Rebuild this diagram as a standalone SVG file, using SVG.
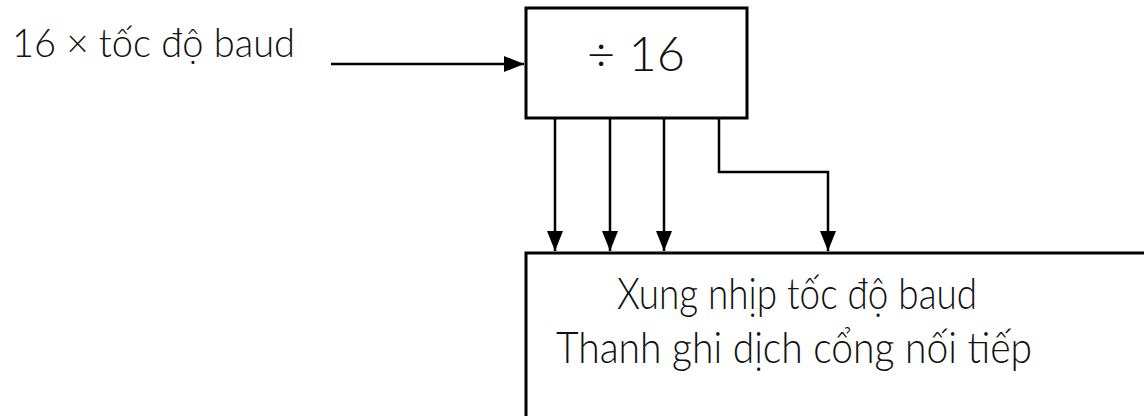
<svg xmlns="http://www.w3.org/2000/svg" width="1144" height="416" viewBox="0 0 1144 416">
<style>
.box{fill:#fff;stroke:#000;stroke-width:3}
.ln{fill:none;stroke:#000;stroke-width:2.5}
.t{font-family:Lato,"Noto Sans",sans-serif;fill:#111;font-weight:300}
</style>
<defs>
<marker id="ah2" viewBox="0 0 10 10" refX="10" refY="5" markerWidth="8" markerHeight="8" orient="auto" markerUnits="strokeWidth">
<path d="M0,1 L10,5 L0,9 Z" fill="#000"/>
</marker>
</defs>
<rect width="1144" height="416" fill="#fff"/>
<g id="input-label">
<text class="t" x="12" y="57" font-size="39" textLength="283" lengthAdjust="spacingAndGlyphs">16 × tốc độ baud</text>
</g>
<g id="divider">
<rect class="box" x="526" y="8" width="221" height="110"/>
<text class="t" x="587" y="71" font-size="47" textLength="98" lengthAdjust="spacingAndGlyphs">÷ 16</text>
</g>
<g id="shift-register">
<rect class="box" x="526" y="253" width="640" height="200"/>
<text class="t" x="617" y="309" font-size="43" textLength="360" lengthAdjust="spacingAndGlyphs">Xung nhịp tốc độ baud</text>
<text class="t" x="556" y="363" font-size="43" textLength="476" lengthAdjust="spacingAndGlyphs">Thanh ghi dịch cổng nối tiếp</text>
</g>
<g id="connectors">
<path class="ln" d="M331,64 H524" marker-end="url(#ah2)"/>
<path class="ln" d="M555,119 V251" marker-end="url(#ah2)"/>
<path class="ln" d="M610,119 V251" marker-end="url(#ah2)"/>
<path class="ln" d="M664,119 V251" marker-end="url(#ah2)"/>
<path class="ln" d="M719,119 V172 H828 V251" marker-end="url(#ah2)"/>
</g>
</svg>
